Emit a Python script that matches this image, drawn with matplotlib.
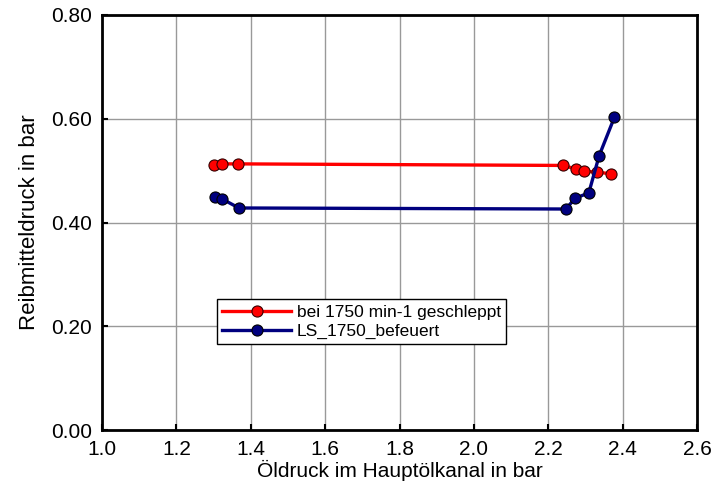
import matplotlib.pyplot as plt

plt.rcParams['font.family'] = ['Liberation Sans', 'DejaVu Sans']

# data
x_geschleppt = [1.301, 1.323, 1.366, 2.240, 2.275, 2.297, 2.330, 2.369]
y_geschleppt = [0.511, 0.513, 0.513, 0.510, 0.503, 0.499, 0.497, 0.494]

x_befeuert = [1.303, 1.324, 1.368, 2.247, 2.273, 2.309, 2.337, 2.378]
y_befeuert = [0.449, 0.445, 0.428, 0.426, 0.447, 0.457, 0.529, 0.603]

label_geschleppt = "bei 1750 min-1 geschleppt"
label_befeuert = "LS_1750_befeuert"

x_ticks = [1.0, 1.2, 1.4, 1.6, 1.8, 2.0, 2.2, 2.4, 2.6]
y_ticks = [0.0, 0.2, 0.4, 0.6, 0.8]

fig = plt.figure(figsize=(7.16, 4.92), dpi=100)
ax = fig.add_axes([102/716, 1 - 430/492, 595/716, 415/492])

ax.plot(x_geschleppt, y_geschleppt, color='#ff0000', lw=2.4, marker='o', ms=8,
        mfc='#ff0000', mec='#330000', mew=0.8, label=label_geschleppt, zorder=3)
ax.plot(x_befeuert, y_befeuert, color='#00007f', lw=2.4, marker='o', ms=8,
        mfc='#00007f', mec='black', mew=0.8, label=label_befeuert, zorder=3)

ax.set_xlim(1.0, 2.6)
ax.set_ylim(0.0, 0.8)
ax.set_xticks(x_ticks)
ax.set_yticks(y_ticks)
ax.set_xticklabels([f"{v:.1f}" for v in x_ticks])
ax.set_yticklabels([f"{v:.2f}" for v in y_ticks])
ax.tick_params(direction='in', length=4, width=1.5, labelsize=15, pad=7,
               top=False, right=False)
ax.grid(True, color='#999999', lw=1.0)
ax.set_axisbelow(True)
for s in ax.spines.values():
    s.set_linewidth(2)

ax.set_xlabel("Öldruck im Hauptölkanal in bar", fontsize=15, labelpad=1)
ax.set_ylabel("Reibmitteldruck in bar", fontsize=16, labelpad=8)

leg = ax.legend(loc='upper left', bbox_to_anchor=(0.193, 0.315), fontsize=12.5,
                fancybox=False, framealpha=1, edgecolor='black',
                handlelength=4.0, handletextpad=0.3, borderpad=0.3,
                labelspacing=0.25, borderaxespad=0)
leg.get_frame().set_linewidth(1.0)

plt.savefig('out.png', dpi=100, facecolor='white')
